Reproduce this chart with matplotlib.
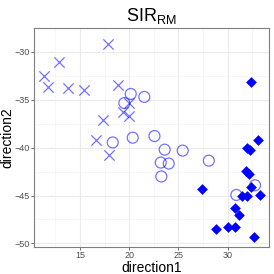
import matplotlib
matplotlib.use('Agg')
import matplotlib.pyplot as plt
import numpy as np

# crosses (group 1)
x_cross = [17.81, 12.90, 11.37, 11.78, 13.81, 15.44, 18.86, 20.01, 19.40, 20.00, 17.30, 16.60, 17.95]
y_cross = [-29.22, -31.08, -32.54, -33.65, -33.79, -33.96, -33.50, -35.30, -36.30, -36.70, -37.07, -39.23, -40.82]

# open circles (group 2)
x_circ = [20.15, 21.53, 19.50, 18.32, 20.35, 22.56, 23.60, 25.43, 23.20, 24.01, 28.08, 23.26, 32.78, 30.88]
y_circ = [-34.39, -34.70, -35.34, -39.46, -38.96, -38.79, -40.21, -40.31, -41.56, -41.66, -41.36, -43.01, -43.93, -44.94]

# filled diamonds (group 3)
x_diam = [32.35, 33.06, 32.00, 32.28, 31.84, 32.15, 32.35, 27.37, 31.49, 31.93, 33.28, 30.77, 31.13, 28.83, 30.01, 30.72, 32.72]
y_diam = [-33.17, -39.16, -40.04, -40.21, -42.40, -42.78, -44.13, -44.37, -45.08, -45.08, -44.91, -46.30, -47.07, -48.53, -48.33, -48.33, -49.30]

x_ticks = [15, 20, 25, 30]
y_ticks = [-30, -35, -40, -45, -50]

plt.rcParams['font.family'] = ['Liberation Sans', 'DejaVu Sans']
plt.rcParams['mathtext.fontset'] = 'custom'
plt.rcParams['mathtext.rm'] = 'Liberation Sans'

fig = plt.figure(figsize=(2.74, 2.74), dpi=100)
ax = fig.add_axes([0.1223, 0.0996, 0.8595, 0.7982])

ax.scatter(x_cross, y_cross, marker='x', s=55, color='blue', alpha=0.55, linewidths=0.9, zorder=3)
ax.scatter(x_circ, y_circ, marker='o', s=62, facecolors='none', edgecolors='blue', alpha=0.55, linewidths=0.9, zorder=3)
ax.scatter(x_diam, y_diam, marker='D', s=30, color='blue', linewidths=0, zorder=4)

ax.set_xlim(10.27, 34.2)
ax.set_ylim(-50.35, -28.17)
ax.set_xticks(x_ticks)
ax.set_yticks(y_ticks)
ax.set_xticks([12.5, 17.5, 22.5, 27.5, 32.5], minor=True)
ax.set_yticks([-27.5, -32.5, -37.5, -42.5, -47.5], minor=True)
ax.set_xticklabels([str(t) for t in x_ticks])
ax.set_yticklabels(['\u221230', '\u221235', '\u221240', '\u221245', '\u221250'])

ax.grid(True, which='major', color='#ebebeb', linewidth=0.8, zorder=0)
ax.grid(True, which='minor', color='#f4f4f4', linewidth=0.5, zorder=0)
ax.set_axisbelow(True)
ax.tick_params(which='major', labelsize=6.5, labelcolor='#4d4d4d', color='#333333',
               length=2, width=0.5, pad=1)
ax.tick_params(which='minor', length=0)
for s in ax.spines.values():
    s.set_color('#7f7f7f')
    s.set_linewidth(0.8)

ax.set_xlabel('direction1', fontsize=10, labelpad=1)
ax.set_ylabel('direction2', fontsize=10)
ax.yaxis.set_label_coords(-0.08, 0.5)
ax.set_title('SIR$_{\\mathrm{RM}}$', fontsize=13, pad=5)

fig.savefig('out.png', dpi=100)
